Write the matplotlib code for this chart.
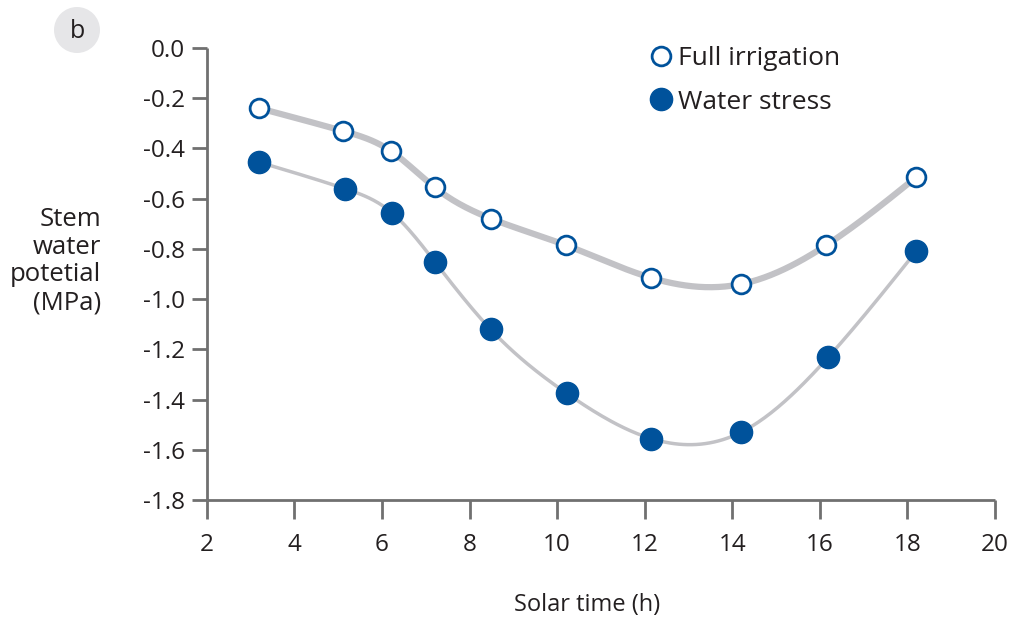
import numpy as np
import matplotlib
matplotlib.use("Agg")
import matplotlib.pyplot as plt
from matplotlib.lines import Line2D
from matplotlib.patches import Ellipse

plt.rcParams['font.family'] = ['Open Sans', 'DejaVu Sans']

# data
solar_time = [3.2, 5.1, 6.2, 7.2, 8.5, 10.2, 12.15, 14.2, 16.15, 18.2]
full_irrigation = [-0.24, -0.33, -0.41, -0.555, -0.68, -0.785, -0.915, -0.94, -0.785, -0.515]
stress_time = [3.2, 5.15, 6.22, 7.2, 8.48, 10.22, 12.15, 14.2, 16.2, 18.2]
water_stress = [-0.455, -0.56, -0.655, -0.85, -1.12, -1.375, -1.555, -1.53, -1.23, -0.81]

x_ticks = [2, 4, 6, 8, 10, 12, 14, 16, 18, 20]
y_ticks = [0.0, -0.2, -0.4, -0.6, -0.8, -1.0, -1.2, -1.4, -1.6, -1.8]

BLUE = '#00529b'
LINE_GREY = '#c2c2c6'
AXIS_GREY = '#707070'
TEXT = '#231f20'


def natural_spline(x, y, n=300):
    """smooth curve through the points (natural cubic spline)"""
    x = np.asarray(x, float)
    y = np.asarray(y, float)
    k = len(x)
    h = np.diff(x)
    A = np.zeros((k, k))
    b = np.zeros(k)
    A[0, 0] = A[-1, -1] = 1
    for i in range(1, k - 1):
        A[i, i - 1] = h[i - 1]
        A[i, i] = 2 * (h[i - 1] + h[i])
        A[i, i + 1] = h[i]
        b[i] = 3 * ((y[i + 1] - y[i]) / h[i] - (y[i] - y[i - 1]) / h[i - 1])
    c = np.linalg.solve(A, b)
    xs = np.linspace(x[0], x[-1], n)
    idx = np.clip(np.searchsorted(x, xs) - 1, 0, k - 2)
    dx = xs - x[idx]
    hi = h[idx]
    bb = (y[idx + 1] - y[idx]) / hi - hi * (2 * c[idx] + c[idx + 1]) / 3
    dd = (c[idx + 1] - c[idx]) / (3 * hi)
    ys = y[idx] + bb * dx + c[idx] * dx ** 2 + dd * dx ** 3
    return xs, ys


fig = plt.figure(figsize=(10.11, 6.19), dpi=100)
ax = fig.add_axes([0.2047, 0.192, 0.7793, 0.7305])

xs, ys = natural_spline(solar_time, full_irrigation)
ax.plot(xs, ys, color=LINE_GREY, lw=4.5, solid_capstyle='round', zorder=1)
xs, ys = natural_spline(stress_time, water_stress)
ax.plot(xs, ys, color=LINE_GREY, lw=2.5, solid_capstyle='round', zorder=1)

ax.plot(solar_time, full_irrigation, 'o', ms=13.5, mfc='white', mec=BLUE, mew=2, zorder=3, clip_on=False)
ax.plot(stress_time, water_stress, 'o', ms=16, mfc=BLUE, mec=BLUE, zorder=3, clip_on=False)

ax.set_xlim(2, 20)
ax.set_ylim(-1.8, 0.0)
ax.set_xticks(x_ticks)
ax.set_yticks(y_ticks)
ax.set_yticklabels([f'{v:.1f}' if v != 0 else '0.0' for v in y_ticks])

for side in ['top', 'right']:
    ax.spines[side].set_visible(False)
for side in ['left', 'bottom']:
    ax.spines[side].set_color(AXIS_GREY)
    ax.spines[side].set_linewidth(2)
    ax.spines[side].set_capstyle('butt')

ax.tick_params(axis='x', length=13.5, width=2, color=AXIS_GREY, labelsize=17.5, labelcolor=TEXT, pad=10)
ax.tick_params(axis='y', length=11, width=2, color=AXIS_GREY, labelsize=17.5, labelcolor=TEXT, pad=5)

fig.text(587 / 1011, 1 - 605 / 619, 'Solar time (h)', ha='center', va='center', fontsize=17, color=TEXT)
fig.text(101 / 1011, 1 - 261 / 619, 'Stem\nwater\npotetial\n(MPa)', ha='right', va='center',
         multialignment='right', fontsize=18.5, color=TEXT, linespacing=1.15)

# panel tag
fig.patches.append(Ellipse((77 / 1011, 1 - 30 / 619), 46 / 1011, 46 / 619, transform=fig.transFigure,
                           facecolor='#e6e6e8', edgecolor='none'))
fig.text(77 / 1011, 1 - 31 / 619, 'b', ha='center', va='center', fontsize=18, color=TEXT)

handles = [
    Line2D([], [], ls='none', marker='o', ms=13.5, mfc='white', mec=BLUE, mew=2),
    Line2D([], [], ls='none', marker='o', ms=16, mfc=BLUE, mec=BLUE),
]
leg = fig.legend(handles, ['Full irrigation', 'Water stress'], loc='upper left',
                 bbox_to_anchor=(637 / 1011, 1 - 33 / 619), frameon=False, fontsize=19,
                 handlelength=0.8, handletextpad=0.25, labelspacing=0.7, borderpad=0)
for t in leg.get_texts():
    t.set_color(TEXT)

fig.savefig('out.png', dpi=100)
